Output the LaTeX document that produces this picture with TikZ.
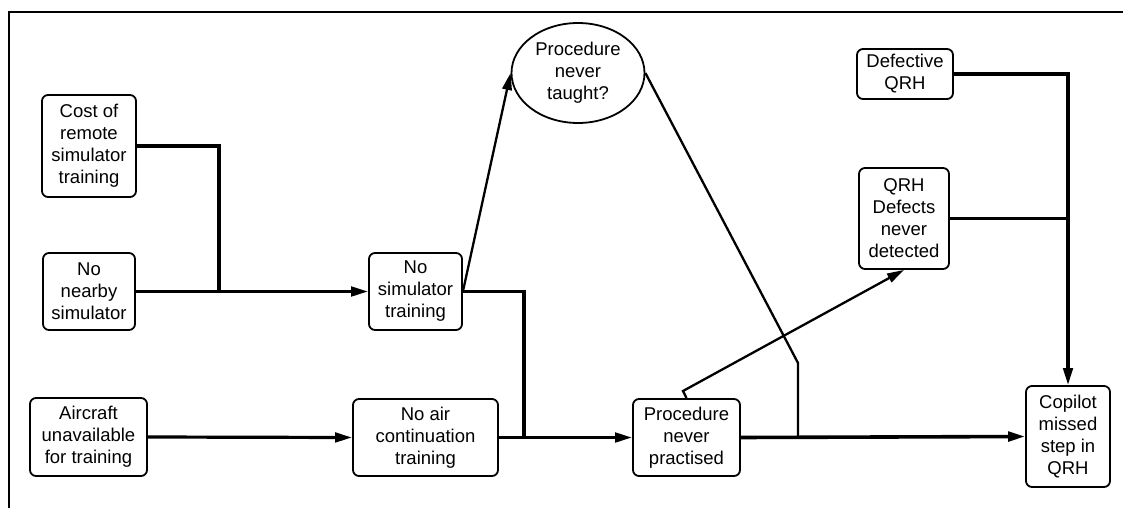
\documentclass[tikz,border=0pt]{standalone}
\usepackage{fontspec}
\setmainfont{Liberation Sans}
\usetikzlibrary{arrows.meta,shapes.geometric}

\begin{document}
\begin{tikzpicture}[x=1pt,y=-1pt,
  box/.style={draw,rounded corners=6pt,line width=1.8pt,align=center,inner sep=0pt,
    font=\fontsize{18.5}{22}\selectfont},
  link/.style={line width=3.2pt},
  slant/.style={line width=2.3pt},
  tip/.style={-{Triangle[length=17pt,width=9.5pt]}}]
%\draw[help lines] (0,0) grid[step=50] (1123,508);
\useasboundingbox (0,0) rectangle (1123,508);

% frame
\draw[line width=1.8pt] (9,508) -- (9,12) -- (1123,12);

% causes on the left
\node[box,minimum width=94pt,minimum height=102pt] (cost) at (89,146) {Cost of\\remote\\simulator\\training};
\node[box,minimum width=92pt,minimum height=77pt] (nearby) at (89,291.5) {No\\nearby\\simulator};
\node[box,minimum width=117pt,minimum height=78pt] (aircraft) at (88.5,437) {Aircraft\\unavailable\\for training};

\node[box,minimum width=93pt,minimum height=77pt] (nosim) at (415.5,291.5) {No\\simulator\\training};
\node[box,minimum width=145pt,minimum height=77pt] (noair) at (425.5,437.5) {No air\\continuation\\training};

\node[draw,ellipse,line width=1.8pt,minimum width=133pt,minimum height=100pt,inner sep=0pt,align=center,
  font=\fontsize{18.5}{22}\selectfont] (taught) at (578,73) {Procedure\\never\\taught?};

\node[box,minimum width=107pt,minimum height=77pt] (pnp) at (686.5,437.5) {Procedure\\never\\practised};

\node[box,minimum width=96pt,minimum height=50pt] (defective) at (905,74) {Defective\\QRH};
\node[box,minimum width=90pt,minimum height=101pt] (qrhdef) at (904,218.5) {QRH\\Defects\\never\\detected};
\node[box,minimum width=84pt,minimum height=101pt] (copilot) at (1068,436.5) {Copilot\\missed\\step in\\QRH};

% junction points
\coordinate (j1) at (219,291.5);
\coordinate (j2) at (524,437.5);
\coordinate (k1) at (798,363);
\coordinate (j3) at (798,437.5);
\coordinate (k2) at (683,391);

\draw[link] (cost.east) -| (j1);
\draw[link,tip] (nearby.east) -- (nosim.west);
\draw[link,tip] (aircraft.east) -- (noair.west);

\draw[link] (nosim.east) -| (j2);
\draw[slant,tip] (nosim.east) -- (taught.west);
\draw[link,tip] (noair.east) -- (pnp.west);

\draw[slant] (taught.east) -- (k1) -- (j3);
\draw[slant,tip] (pnp.north) -- (k2) -- (qrhdef.south);
\draw[link,line width=3.6pt,tip] (pnp.east) -- (copilot.west);

\draw[link,tip] (defective.east) -| (copilot.north);
\draw[link] (qrhdef.east) -- (qrhdef.east -| copilot.north);

\end{tikzpicture}
\end{document}
